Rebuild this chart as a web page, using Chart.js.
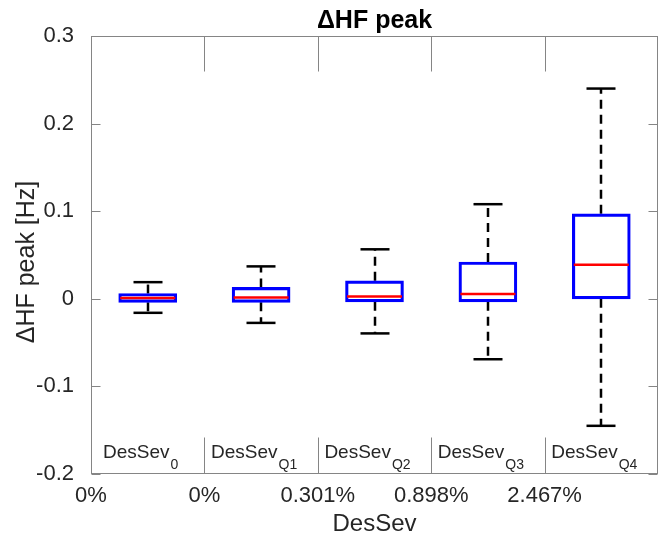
<!DOCTYPE html>
<html>
<head>
<meta charset="utf-8">
<script src="https://cdn.jsdelivr.net/npm/chart.js@4/dist/chart.umd.min.js"></script>
<style>
html, body { margin: 0; padding: 0; background: #fff; }
</style>
</head>
<body>
<canvas id="c" width="663" height="539"></canvas>
<script>
// box plot values
const groups = ["0", "Q1", "Q2", "Q3", "Q4"];
const lowerWhisker = [-0.016, -0.0275, -0.0395, -0.069, -0.145];
const q1 = [-0.004, -0.004, -0.0035, -0.0035, 0.0];
const medians = [0.001, 0.0015, 0.0026, 0.0055, 0.039];
const q3 = [0.006, 0.013, 0.0205, 0.042, 0.097];
const upperWhisker = [0.019, 0.037, 0.0565, 0.108, 0.24];
const xTickLabels = ["0%", "0%", "0.301%", "0.898%", "2.467%", ""];
const yTicks = [-0.2, -0.1, 0, 0.1, 0.2, 0.3];

const FONT = "'Liberation Sans', Arial, Helvetica, sans-serif";
const TEXT = "#262626";
const AXIS = "#858585";

function line(ctx, x1, y1, x2, y2) {
    ctx.beginPath();
    ctx.moveTo(x1, y1);
    ctx.lineTo(x2, y2);
    ctx.stroke();
}

const boxExtras = {
    id: "boxExtras",
    beforeDatasetsDraw(chart) {
        const ctx = chart.ctx, x = chart.scales.x, y = chart.scales.y;
        const bars = chart.getDatasetMeta(0).data;
        ctx.save();
        ctx.strokeStyle = "#000";
        ctx.lineWidth = 2.5;
        for (var i = 0; i < groups.length; i++) {
            const cx = Math.round(x.getPixelForValue(i + 0.5));
            const capHalf = bars[i].width / 4;
            ctx.setLineDash([9, 6]);
            line(ctx, cx, y.getPixelForValue(q3[i]), cx, y.getPixelForValue(upperWhisker[i]));
            line(ctx, cx, y.getPixelForValue(q1[i]), cx, y.getPixelForValue(lowerWhisker[i]));
            ctx.setLineDash([]);
            const yu = y.getPixelForValue(upperWhisker[i]);
            const yl = y.getPixelForValue(lowerWhisker[i]);
            line(ctx, cx - capHalf, yu, cx + capHalf, yu);
            line(ctx, cx - capHalf, yl, cx + capHalf, yl);
        }
        ctx.restore();
    },
    afterDatasetsDraw(chart) {
        const ctx = chart.ctx, y = chart.scales.y;
        const bars = chart.getDatasetMeta(0).data;
        ctx.save();
        ctx.strokeStyle = "#ff0000";
        ctx.lineWidth = 2.5;
        for (var i = 0; i < groups.length; i++) {
            const ym = y.getPixelForValue(medians[i]);
            line(ctx, bars[i].x - bars[i].width / 2 + 1.5, ym, bars[i].x + bars[i].width / 2 - 1.5, ym);
        }
        ctx.restore();
    },
    afterDraw(chart) {
        const ctx = chart.ctx, x = chart.scales.x, y = chart.scales.y;
        const a = chart.chartArea;
        const L = Math.round(a.left) + 0.5, R = Math.round(a.right) - 0.5;
        const T = Math.round(a.top) + 0.5, B = Math.round(a.bottom) - 0.5;
        ctx.save();
        ctx.strokeStyle = AXIS;
        ctx.lineWidth = 1;
        ctx.strokeRect(L, T, R - L, B - T);
        // inward ticks
        yTicks.forEach(v => {
            const py = Math.round(y.getPixelForValue(v)) + 0.5;
            line(ctx, L, py, L + 9, py);
            line(ctx, R, py, R - 9, py);
        });
        for (var k = 1; k < groups.length; k++) {
            const px = Math.round(x.getPixelForValue(k)) + 0.5;
            line(ctx, px, T, px, T + 35);
            line(ctx, px, B, px, B - 36);
        }
        // group labels inside the axes
        ctx.fillStyle = TEXT;
        ctx.textBaseline = "alphabetic";
        ctx.textAlign = "left";
        for (var i = 0; i < groups.length; i++) {
            ctx.font = "19px " + FONT;
            const w1 = ctx.measureText("DesSev").width;
            ctx.font = "14px " + FONT;
            const w2 = ctx.measureText(groups[i]).width;
            const cx = x.getPixelForValue(i + 0.5) - 7;
            const sx = cx - (w1 + w2 + 1) / 2;
            ctx.font = "19px " + FONT;
            ctx.fillText("DesSev", sx, 458);
            ctx.font = "14px " + FONT;
            ctx.fillText(groups[i], sx + w1 + 1, 469);
        }
        // titles
        ctx.textAlign = "center";
        ctx.font = "bold 25px " + FONT;
        ctx.fillStyle = "#000";
        ctx.fillText("\u0394HF peak", (a.left + a.right) / 2, 28);
        ctx.fillStyle = TEXT;
        ctx.font = "24px " + FONT;
        ctx.fillText("DesSev", (a.left + a.right) / 2, 531);
        ctx.font = "25px " + FONT;
        ctx.translate(34, 262);
        ctx.rotate(-Math.PI / 2);
        ctx.fillText("\u0394HF peak [Hz]", 0, 0);
        ctx.restore();
    }
};

new Chart("c", {
    type: "bar",
    data: {
        datasets: [{
            data: groups.map((g, i) => ({ x: i + 0.5, y: [q1[i], q3[i]] })),
            backgroundColor: "rgba(0,0,0,0)",
            borderColor: "#0000ff",
            borderWidth: 2.5,
            borderSkipped: false,
            barThickness: 58
        }]
    },
    options: {
        responsive: false,
        animation: false,
        layout: { padding: { top: 36, right: 5 } },
        plugins: { legend: { display: false }, title: { display: false }, tooltip: { enabled: false } },
        scales: {
            x: {
                type: "linear",
                min: 0,
                max: 5,
                offset: false,
                afterFit: s => { s.height = 65; },
                afterBuildTicks: s => { s.ticks = xTickLabels.map((t, i) => ({ value: i })); },
                grid: { display: false },
                border: { display: false },
                ticks: {
                    autoSkip: false,
                    maxRotation: 0,
                    padding: 1,
                    color: TEXT,
                    font: { family: FONT, size: 22 },
                    callback: (v, i) => xTickLabels[i]
                }
            },
            y: {
                min: -0.2,
                max: 0.3,
                afterFit: s => { s.width = 91; },
                afterBuildTicks: s => { s.ticks = yTicks.map(v => ({ value: v })); },
                grid: { display: false },
                border: { display: false },
                ticks: {
                    padding: 9,
                    color: TEXT,
                    font: { family: FONT, size: 22 },
                    callback: v => String(Math.round(v * 10) / 10)
                }
            }
        }
    },
    plugins: [boxExtras]
});
</script>
</body>
</html>
